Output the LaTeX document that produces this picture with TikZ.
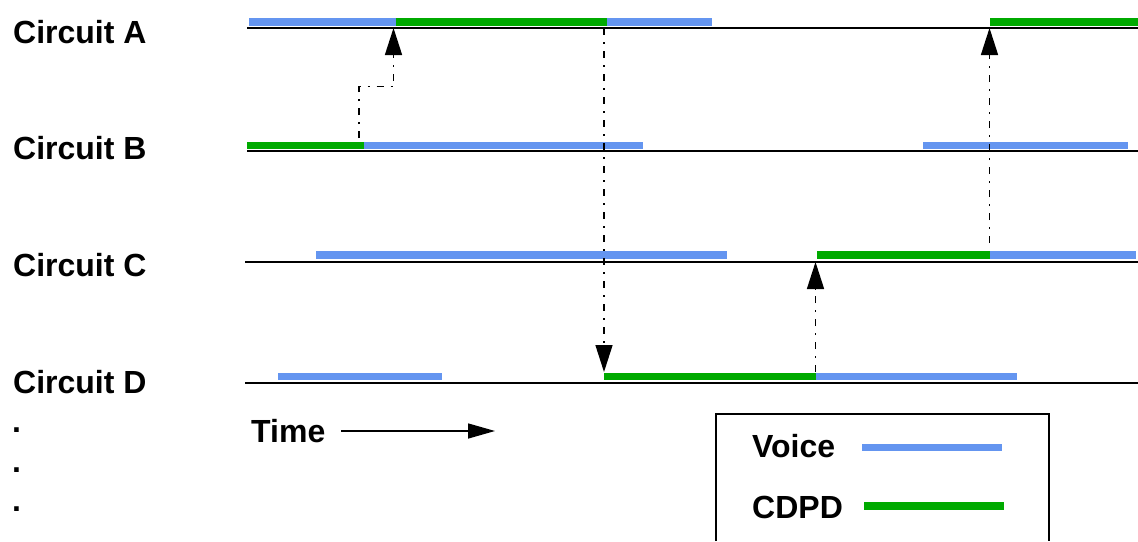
\documentclass[tikz,border=0pt]{standalone}
\usepackage{fontspec}
\setmainfont{Liberation Sans}
\usetikzlibrary{arrows.meta}
\definecolor{voiceblue}{RGB}{100,149,240}
\definecolor{cdpdgreen}{RGB}{0,170,0}
\tikzset{
  lbl/.style={font=\bfseries\fontsize{32}{38}\selectfont, anchor=base west, inner sep=0pt},
  baseline/.style={line width=2pt, black},
  voicebar/.style={line width=7.5pt, voiceblue},
  cdpdbar/.style={line width=7.5pt, cdpdgreen},
  handoff/.style={line width=1.5pt, dash pattern=on 7pt off 7pt on 2pt off 7pt,
    -{Triangle[length=27pt,width=17pt]}},
  legendbox/.style={line width=2pt, black}
}
\begin{document}
\begin{tikzpicture}[x=1pt,y=-1pt]
\useasboundingbox (0,0) rectangle (1138,541);
% labels
\node[lbl] (la) at (13,43) {Circuit A};
\node[lbl] (lb) at (13,159) {Circuit B};
\node[lbl] (lc) at (13,276) {Circuit C};
\node[lbl] (ld) at (13,393) {Circuit D};
\node[lbl] (d1) at (12,432) {.};
\node[lbl] (d2) at (12,472) {.};
\node[lbl] (d3) at (12,511) {.};
% baselines
\draw[baseline] (247,27.7) -- (1138,27.7);
\draw[baseline] (247,150.7) -- (1138,150.7);
\draw[baseline] (245,261.7) -- (1138,261.7);
\draw[baseline] (245,382.8) -- (1138,382.8);
% Circuit A bars
\draw[voicebar] (249,21.8) -- (395.5,21.8);
\draw[cdpdbar] (395.5,21.8) -- (606.7,21.8);
\draw[voicebar] (606.7,21.8) -- (711.7,21.8);
\draw[cdpdbar] (990,21.8) -- (1138,21.8);
% Circuit B bars
\draw[cdpdbar] (247,145.7) -- (364,145.7);
\draw[voicebar] (364,145.7) -- (642.7,145.7);
\draw[voicebar] (923,145.7) -- (1128,145.7);
% Circuit C bars
\draw[voicebar] (316,254.8) -- (726.7,254.8);
\draw[cdpdbar] (817,254.8) -- (990,254.8);
\draw[voicebar] (990,254.8) -- (1136,254.8);
% Circuit D bars
\draw[voicebar] (278,376.3) -- (442,376.3);
\draw[cdpdbar] (604,376.3) -- (815.7,376.3);
\draw[voicebar] (815.7,376.3) -- (1017,376.3);
% handoff arrows
\coordinate (h1s) at (359,138);
\coordinate (h1e) at (393.5,28);
\coordinate (h2s) at (604,28);
\coordinate (h2e) at (604,372);
\coordinate (h3s) at (815.5,372);
\coordinate (h3e) at (815.5,262);
\coordinate (h4s) at (989.5,243);
\coordinate (h4e) at (989.5,28);
\draw[handoff] (h1s) -- (359,86.7) -- (393.5,86.7) -- (h1e);
\draw[handoff] (h2s) -- (h2e);
\draw[handoff] (h3s) -- (h3e);
\draw[handoff] (h4s) -- (h4e);
% time
\node[lbl] (time) at (251,442) {Time};
\coordinate (tend) at (495,431);
\draw[line width=1.5pt, -{Triangle[length=27pt,width=15pt]}] (341,431) -- (tend);
% legend
\draw[legendbox] (716,541) -- (716,414) -- (1049,414) -- (1049,541);
\node[lbl] (voice) at (752,457) {Voice};
\node[lbl] (cdpd) at (752,518) {CDPD};
\draw[voicebar] (862,447.7) -- (1002,447.7);
\draw[cdpdbar] (864,506) -- (1004,506);
\end{tikzpicture}
\end{document}
